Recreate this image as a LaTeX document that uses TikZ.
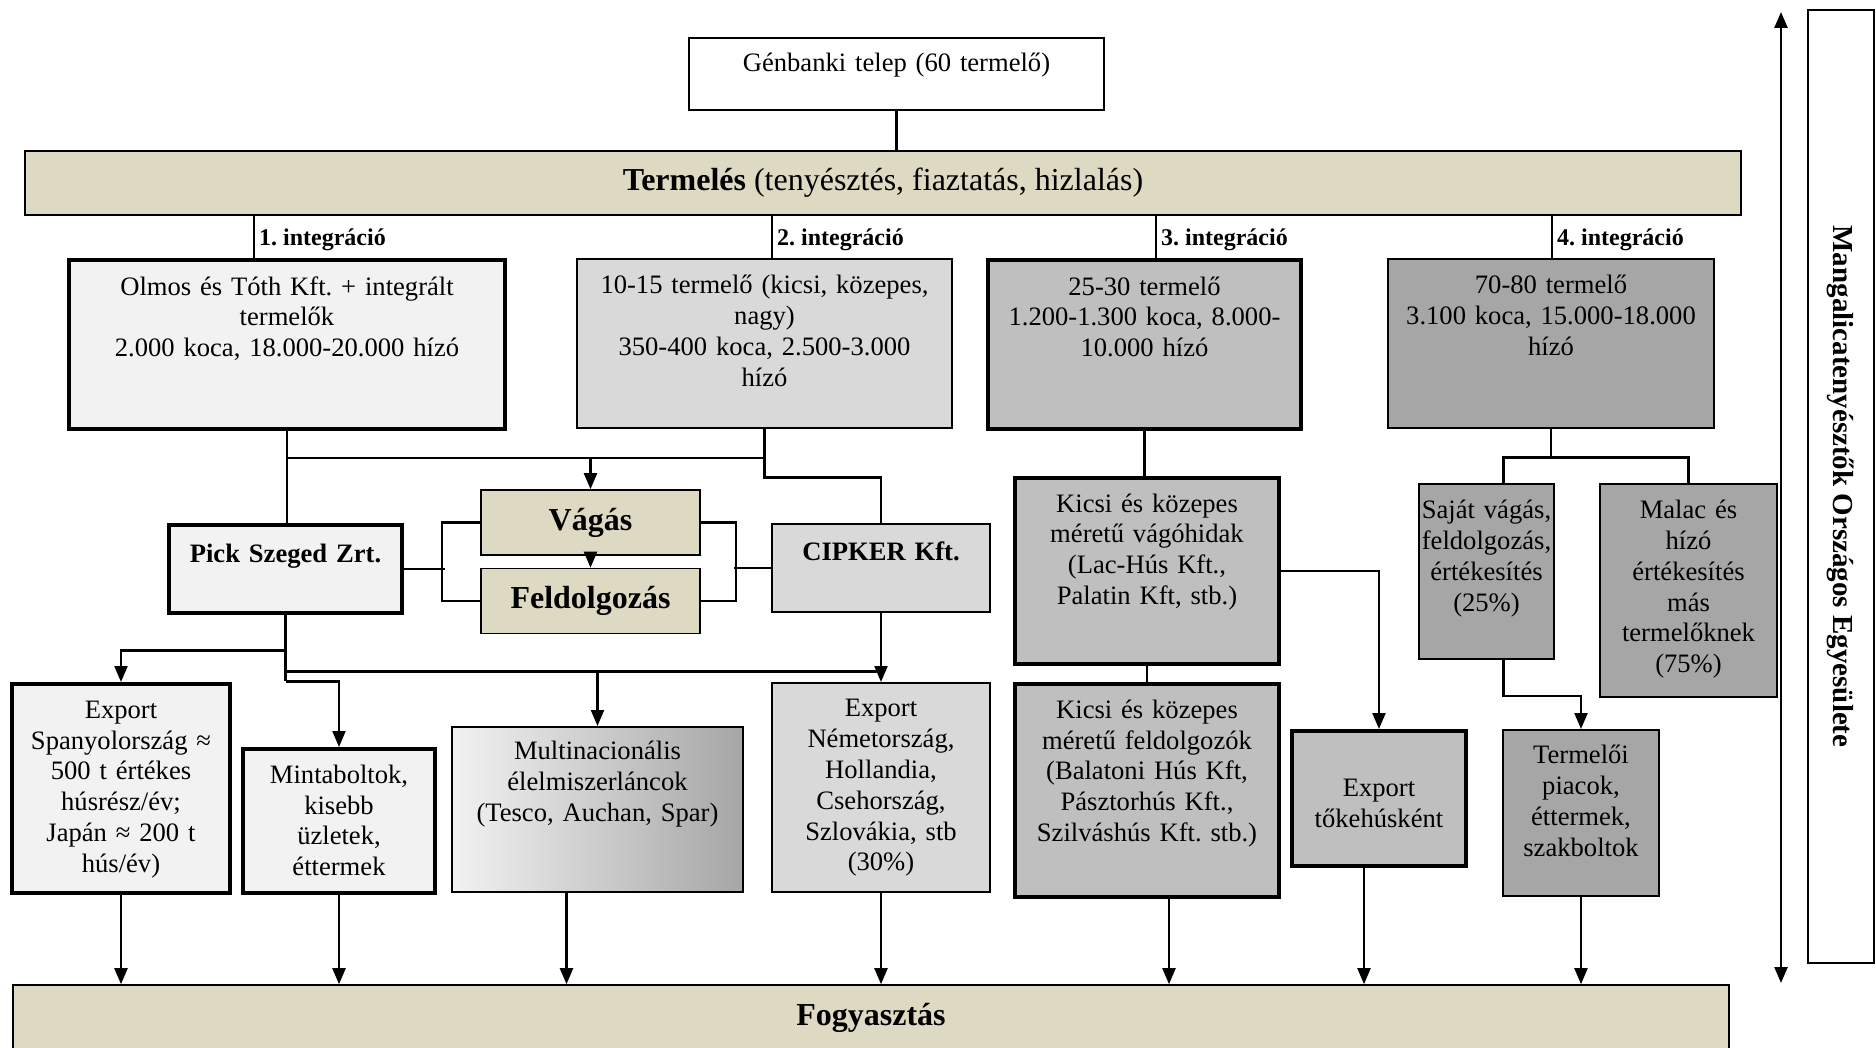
\documentclass[tikz,border=0pt]{standalone}
\usepackage{fontspec}
\setmainfont{Liberation Serif}
\usetikzlibrary{arrows.meta}
\definecolor{sand}{HTML}{DDD9C3}
\definecolor{g1}{HTML}{F2F2F2}
\definecolor{g2}{HTML}{D9D9D9}
\definecolor{g3}{HTML}{BFBFBF}
\definecolor{g4}{HTML}{A6A6A6}
\definecolor{gm}{HTML}{E3E3E3}
\frenchspacing
\tikzset{
 cell/.style={draw,line width=0.8pt,align=center,inner xsep=1pt,inner ysep=0pt,anchor=north,font=\fontsize{13.3}{15.4}\selectfont},
 heavy/.style={line width=2.2pt},
 dims/.style n args={3}{text width=#1pt,text height=#2pt,text depth=#3pt},
 band/.style={draw,line width=0.8pt,fill=sand,minimum width=858pt,minimum height=32pt,font=\fontsize{16}{19}\selectfont},
 stage/.style={draw,line width=0.8pt,fill=sand,minimum width=109.5pt,minimum height=32.5pt,font=\bfseries\fontsize{16}{19}\selectfont},
 intlab/.style={anchor=west,inner xsep=2pt,inner ysep=1pt,font=\bfseries\fontsize{12}{14}\selectfont},
}
\begin{document}
\begin{tikzpicture}[x=0.5pt,y=-0.5pt,line width=1.1pt,>={Triangle[length=8pt,width=6.5pt]}]
\useasboundingbox (0,0) rectangle (1876,1048);
\node[cell,dims={205.5}{17}{19}] (gen) at (896.5,37) {Génbanki telep (60 termelő)};
\node[band] (term) at (883,183) {\textbf{Termelés} (tenyésztés, fiaztatás, hizlalás)};
\node[intlab] (l1) at (254,240) {1. integráció};
\node[intlab] (l2) at (772,240) {2. integráció};
\node[intlab] (l3) at (1156,240) {3. integráció};
\node[intlab] (l4) at (1552,240) {4. integráció};
\node[cell,heavy,fill=g1,dims={216}{17.5}{67}] (b1) at (287,258) {Olmos és Tóth Kft. + integrált\\termelők\\2.000 koca, 18.000-20.000 hízó};
\node[cell,fill=g2,dims={185.5}{17.5}{67}] (b2) at (764.5,258) {10-15 termelő (kicsi, közepes,\\nagy)\\350-400 koca, 2.500-3.000\\hízó};
\node[cell,heavy,fill=g3,dims={154.5}{17.5}{67}] (b3) at (1144.5,258) {25-30 termelő\\1.200-1.300 koca, 8.000-\\10.000 hízó};
\node[cell,fill=g4,dims={161}{17.5}{67}] (b4) at (1551,258) {70-80 termelő\\3.100 koca, 15.000-18.000\\hízó};
\node[stage] (vag) at (590.5,522.5) {Vágás};
\node[stage] (feld) at (590.5,601) {Feldolgozás};
\node[cell,heavy,fill=g1,dims={114.5}{18.5}{25.5}] (pick) at (285.5,523) {\textbf{Pick Szeged Zrt.}};
\node[cell,fill=g2,dims={107}{18.5}{25.5}] (cipker) at (881,523) {\textbf{CIPKER Kft.}};
\node[cell,heavy,fill=g3,dims={130}{17}{76}] (kv) at (1147,476) {Kicsi és közepes\\méretű vágóhidak\\(Lac-Hús Kft.,\\Palatin Kft, stb.)};
\node[cell,fill=g4,dims={65.5}{17.5}{70}] (sajat) at (1486.5,483) {Saját vágás,\\feldolgozás,\\értékesítés\\(25\%)};
\node[cell,fill=g4,dims={86.5}{17.5}{89}] (malac) at (1688.5,483) {Malac és\\hízó\\értékesítés\\más\\termelőknek\\(75\%)};
\node[cell,heavy,fill=g1,dims={107}{17}{87.5}] (exp1) at (121,682) {Export\\Spanyolország ≈\\500 t értékes\\húsrész/év;\\Japán ≈ 200 t\\hús/év)};
\node[cell,heavy,fill=g1,dims={94}{17}{55}] (minta) at (339,747) {Mintaboltok,\\kisebb\\üzletek,\\éttermek};
\node[cell,left color=g1,middle color=gm,right color=g4,dims={143.5}{16.5}{66}] (multi) at (597.5,726) {Multinacionális\\élelmiszerláncok\\(Tesco, Auchan, Spar)};
\node[cell,fill=g2,dims={107}{17}{87.5}] (exp2) at (881,682) {Export\\Németország,\\Hollandia,\\Csehország,\\Szlovákia, stb\\(30\%)};
\node[cell,heavy,fill=g3,dims={130}{17}{89.5}] (kf) at (1147,682) {Kicsi és közepes\\méretű feldolgozók\\(Balatoni Hús Kft,\\Pásztorhús Kft.,\\Szilváshús Kft. stb.)};
\node[cell,heavy,fill=g3,dims={85}{32.5}{35}] (extoke) at (1379,729) {Export\\tőkehúsként};
\node[cell,fill=g4,dims={76}{17}{66}] (piac) at (1581,729) {Termelői\\piacok,\\éttermek,\\szakboltok};
\node[band,minimum height=32.5pt] (fogy) at (871,1017.5) {\textbf{Fogyasztás}};
\node[draw,line width=0.8pt,rotate=-90,minimum width=476.5pt,minimum height=33pt,font=\bfseries\fontsize{14.5}{17}\selectfont] (org) at (1841,486.5) {Mangalicatenyésztők Országos Egyesülete};
\coordinate (ar1) at (1781,12);
\coordinate (ar2) at (1781,983);
\draw[<->,line width=1.2pt] (ar1) -- (ar2);
\draw (gen.south) -- (gen.south |- term.north);
\foreach \l/\b in {l1/b1,l2/b2,l3/b3,l4/b4}
  \draw (term.south -| \l.west) -- (\l.west |- \b.north);
\coordinate (jn) at (287,458);
\draw (b1.south) -- (b1.south |- pick.north);
\draw (jn) -- (jn -| b2.south);
\draw[->] (jn -| vag.north) -- (vag.north);
\draw (b2.south) -- ++(0,49) -| (cipker.north);
\draw[->] (vag.south) -- (feld.north);
\draw (vag.west) -- ++(-38,0) |- (feld.west);
\draw (pick.east) -- ++(41,0);
\draw (vag.east) -- ++(35,0) |- (feld.east);
\draw (cipker.west) -- ++(-37,0);
\path (pick.south) ++(0,56) coordinate (hz);
\draw (pick.south) -- ++(0,66);
\draw[->] (pick.south) ++(0,35) -| (exp1.north);
\draw (hz) -- (hz -| exp2.north);
\draw[->] (hz -| multi.north) -- (multi.north);
\draw[->] (pick.south) ++(0,66) -| (minta.north);
\draw[->] (cipker.south) -- (exp2.north);
\draw (b3.south) -- (b3.south |- kv.north);
\draw (kv.south) -- (kv.south |- kf.north);
\draw[->] (kv.east) -| (extoke.north);
\path (b4.south) ++(0,29) coordinate (fk);
\draw (b4.south) -- (fk);
\draw ([xshift=8.5pt]sajat.north) |- (fk) -| (malac.north);
\draw[->] ([xshift=8.5pt]sajat.south) -- ++(0,36) -| (piac.north);
\foreach \n/\dx in {exp1/0,minta/0,multi/-15.5,exp2/0,kf/11,extoke/-7.5,piac/0}
  \draw[->] ([xshift=\dx pt]\n.south) -- ([xshift=\dx pt]\n.south |- fogy.north);
\end{tikzpicture}
\end{document}
